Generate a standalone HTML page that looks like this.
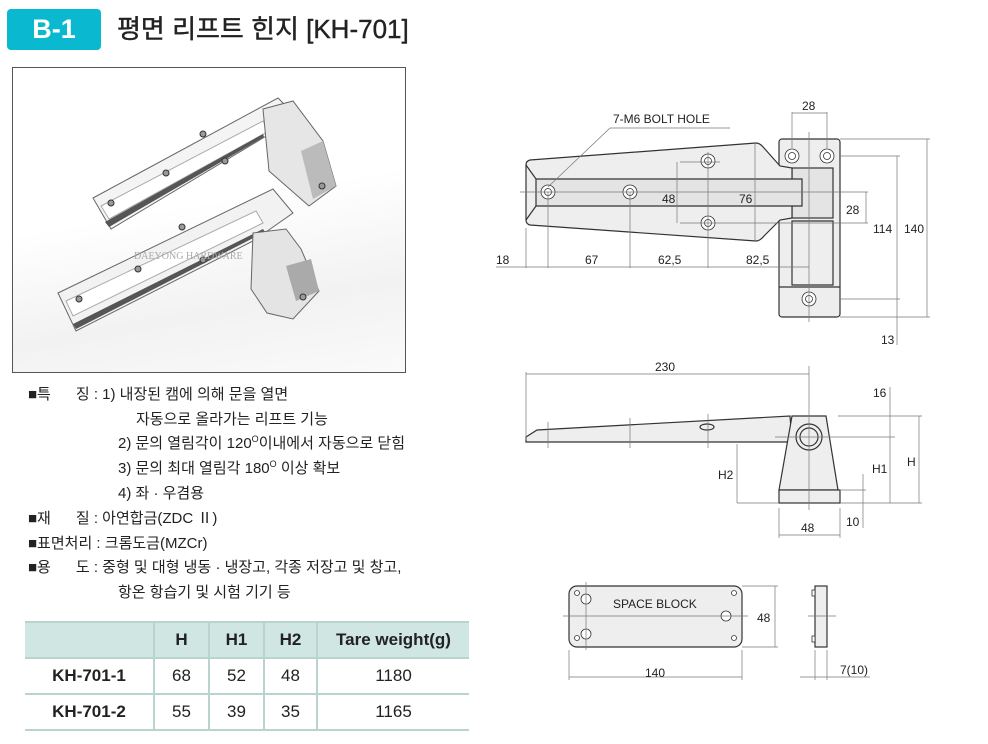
<!DOCTYPE html>
<html><head><meta charset="utf-8"><style>
body{margin:0;width:988px;height:744px;background:#fff;position:relative;overflow:hidden;font-family:"Liberation Sans","Noto Sans CJK KR",sans-serif;color:#222}
.a{position:absolute;white-space:nowrap}
.t{font-size:15px;line-height:20px}
.s{font-size:9px;line-height:0;position:relative;top:-6px}
table{position:absolute;left:25px;top:621px;border-collapse:collapse;font-size:17px}
td{border-left:2px solid #b9d4cf;text-align:center;height:34px;padding:0}
td:first-child{border-left:none}
tr{border-bottom:2px solid #b9d4cf}
tr.h{background:#cfe6e2;font-weight:bold;border-top:2px solid #b9d4cf}
</style></head><body>
<div class="a" style="left:7px;top:9px;width:94px;height:41px;background:#0ab9cf;border-radius:4px;color:#fff;font-weight:bold;font-size:27px;line-height:41px;text-align:center">B-1</div>
<div class="a" style="left:117px;top:11px;font-size:26px;line-height:36px;color:#222;-webkit-text-stroke:0.4px #222">평면 리프트 힌지 [KH-701]</div>

<div class="a" style="left:12px;top:67px;width:392px;height:304px;border:1px solid #555;background:linear-gradient(170deg,#fff 45%,#f2f2f2 75%,#fafafa)">
<svg width="392" height="304" viewBox="12 67 392 304" style="position:absolute;left:0;top:0">
<polygon points="92,197 277,97 297,117 262,137 110,228" fill="#f4f4f4" stroke="#666"/>
<polygon points="100,205 262,120 268,130 108,218" fill="#fff" stroke="#aaa"/>
<polygon points="104,221 262,133 263,136 108,226" fill="#555"/>
<polygon points="262,108 292,100 322,140 335,185 308,205 268,170" fill="#e6e6e6" stroke="#666"/>
<polygon points="300,150 322,140 335,185 312,198" fill="#bbb"/>
<polygon points="57,292 272,188 292,212 252,240 75,330" fill="#f2f2f2" stroke="#666"/>
<polygon points="65,300 255,210 262,222 72,315" fill="#fff" stroke="#aaa"/>
<polygon points="72,323 262,228 264,231 75,328" fill="#555"/>
<polygon points="252,232 285,228 300,248 318,290 292,318 266,312 250,288" fill="#e4e4e4" stroke="#666"/>
<polygon points="285,265 310,258 318,290 295,300" fill="#aaa"/>
<g fill="#999" stroke="#333"><circle cx="110" cy="202" r="3"/><circle cx="165" cy="172" r="3"/><circle cx="224" cy="160" r="3"/><circle cx="202" cy="133" r="3"/><circle cx="321" cy="185" r="3"/><circle cx="78" cy="298" r="3"/><circle cx="137" cy="268" r="3"/><circle cx="202" cy="259" r="3"/><circle cx="181" cy="226" r="3"/><circle cx="302" cy="296" r="3"/></g>
<text x="133" y="258" font-size="10" fill="#aaa" font-family="Liberation Serif">DAEYONG HARDWARE</text>
</svg></div>

<div class="a t" style="left:28px;top:385px">■특&nbsp;&nbsp;&nbsp;&nbsp;&nbsp;&nbsp;징 : 1) 내장된 캠에 의해 문을 열면</div>
<div class="a t" style="left:136px;top:410px">자동으로 올라가는 리프트 기능</div>
<div class="a t" style="left:118px;top:434px">2) 문의 열림각이 120<span class="s">O</span>이내에서 자동으로 닫힘</div>
<div class="a t" style="left:118px;top:459px">3) 문의 최대 열림각 180<span class="s">O</span> 이상 확보</div>
<div class="a t" style="left:118px;top:484px">4) 좌 · 우겸용</div>
<div class="a t" style="left:28px;top:509px">■재&nbsp;&nbsp;&nbsp;&nbsp;&nbsp;&nbsp;질 : 아연합금(ZDC Ⅱ)</div>
<div class="a t" style="left:28px;top:534px">■표면처리 : 크롬도금(MZCr)</div>
<div class="a t" style="left:28px;top:558px">■용&nbsp;&nbsp;&nbsp;&nbsp;&nbsp;&nbsp;도 : 중형 및 대형 냉동 · 냉장고, 각종 저장고 및 창고,</div>
<div class="a t" style="left:118px;top:583px">항온 항습기 및 시험 기기 등</div>

<table>
<tr class="h"><td style="width:128px"></td><td style="width:53px">H</td><td style="width:53px">H1</td><td style="width:51px">H2</td><td style="width:151px">Tare weight(g)</td></tr>
<tr><td style="font-weight:bold">KH-701-1</td><td>68</td><td>52</td><td>48</td><td>1180</td></tr>
<tr><td style="font-weight:bold">KH-701-2</td><td>55</td><td>39</td><td>35</td><td>1165</td></tr>
</table>

<svg width="988" height="744" style="position:absolute;left:0;top:0" font-family="Liberation Sans" font-size="12" fill="none">
<g stroke="#333" stroke-width="1.2">
<rect x="779" y="139" width="61" height="178" rx="3" fill="#eee"/>
<rect x="792" y="168" width="41" height="50" fill="#e4e4e4"/>
<path d="M792,221 L833,221 L833,285 L792,285Z M779,287 L840,287"/>
<path d="M530,160 L756,143 Q760,143 764,148 L780,166 L792,168 L792,218 L780,220 L764,236 Q760,241 756,241 L530,225 Q526,224 526,220 L526,165 Q526,161 530,160Z" fill="#eee"/>
<path d="M536,179 L802,179 L802,206 L536,206Z M526,165 L536,179 M526,220 L536,206" fill="#e4e4e4"/>
</g>
<g stroke="#333" stroke-width="0.8" fill="#fff">
<circle cx="548" cy="192" r="7"/><circle cx="548" cy="192" r="3.5"/>
<circle cx="630" cy="192" r="7"/><circle cx="630" cy="192" r="3.5"/>
<circle cx="708" cy="161" r="7"/><circle cx="708" cy="161" r="3.5"/>
<circle cx="708" cy="223" r="7"/><circle cx="708" cy="223" r="3.5"/>
<circle cx="792" cy="156" r="7"/><circle cx="792" cy="156" r="3.5"/>
<circle cx="827" cy="156" r="7"/><circle cx="827" cy="156" r="3.5"/>
<circle cx="809" cy="299" r="7"/><circle cx="809" cy="299" r="3.5"/>
</g>
<g stroke="#777" stroke-width="0.7">
<path d="M520,192 L868,192 M809,132 L809,322 M548,192 L548,268 M630,192 L630,268 M708,152 L708,268 M526,228 L526,268 M496,267 L809,267"/>
<path d="M680,162 L720,162 M680,223 L868,223 M677,162 L677,223 M755,143 L755,240 M792,112 L792,148 M827,112 L827,148 M792,113 L827,113"/>
<path d="M840,139 L930,139 M840,156 L900,156 M840,299 L900,299 M840,317 L930,317 M897,156 L897,345 M927,139 L927,317 M866,192 L866,223"/>
<path d="M548,187 L610,128 L730,128"/>
</g>
<g fill="#222" font-size="12">
<text x="613" y="123">7-M6  BOLT  HOLE</text>
<text x="802" y="110">28</text><text x="662" y="203">48</text><text x="739" y="203">76</text>
<text x="846" y="214">28</text><text x="873" y="233">114</text><text x="904" y="233">140</text>
<text x="496" y="264">18</text><text x="585" y="264">67</text><text x="658" y="264">62,5</text><text x="746" y="264">82,5</text>
<text x="881" y="344">13</text>
</g>
<g stroke="#333" stroke-width="1.2" fill="#eee">
<path d="M526,442 L526,437 L537,430 L790,416 L792,442Z"/>
<path d="M792,416 L826,416 L838,490 L779,490Z"/>
<rect x="779" y="490" width="61" height="13"/>
<circle cx="809" cy="437" r="13"/><circle cx="809" cy="437" r="9"/>
<ellipse cx="707" cy="427" rx="7" ry="3"/>
</g>
<g stroke="#777" stroke-width="0.7">
<path d="M526,372 L526,440 M526,374 L809,374 M809,366 L809,510 M548,422 L548,448 M630,418 L630,448 M708,414 L708,448 M775,437 L895,437"/>
<path d="M838,416 L922,416 M840,503 L922,503 M737,503 L779,503 M737,444 L737,503 M890,387 L890,503 M919,416 L919,503 M840,490 L866,490 M863,474 L863,528 M779,508 L779,538 M840,508 L840,538 M779,535 L840,535"/>
</g>
<g fill="#222" font-size="12">
<text x="655" y="371">230</text><text x="873" y="397">16</text><text x="718" y="479">H2</text>
<text x="872" y="473">H1</text><text x="907" y="466">H</text><text x="846" y="526">10</text><text x="801" y="532">48</text>
</g>
<g stroke="#333" stroke-width="1.2" fill="#eee">
<rect x="569" y="586" width="173" height="61" rx="8"/>
<rect x="815" y="586" width="12" height="61"/>
</g>
<g stroke="#333" stroke-width="0.8" fill="#fff">
<circle cx="586" cy="599" r="5"/><circle cx="586" cy="634" r="5"/><circle cx="726" cy="616" r="5"/>
<circle cx="577" cy="593" r="2.5"/><circle cx="577" cy="638" r="2.5"/><circle cx="734" cy="593" r="2.5"/><circle cx="734" cy="638" r="2.5"/>
<rect x="812" y="590" width="3" height="6"/><rect x="812" y="636" width="3" height="6"/>
</g>
<g stroke="#777" stroke-width="0.7">
<path d="M563,616 L748,616 M586,582 L586,650 M742,586 L778,586 M742,647 L778,647 M775,586 L775,647 M808,616 L836,616"/>
<path d="M569,650 L569,680 M742,650 L742,680 M569,677 L742,677 M815,650 L815,680 M827,650 L827,680 M800,677 L870,677"/>
</g>
<g fill="#222" font-size="12">
<text x="613" y="608">SPACE  BLOCK</text><text x="757" y="622">48</text><text x="645" y="677">140</text><text x="840" y="674">7(10)</text>
</g>
</svg>
</body></html>
